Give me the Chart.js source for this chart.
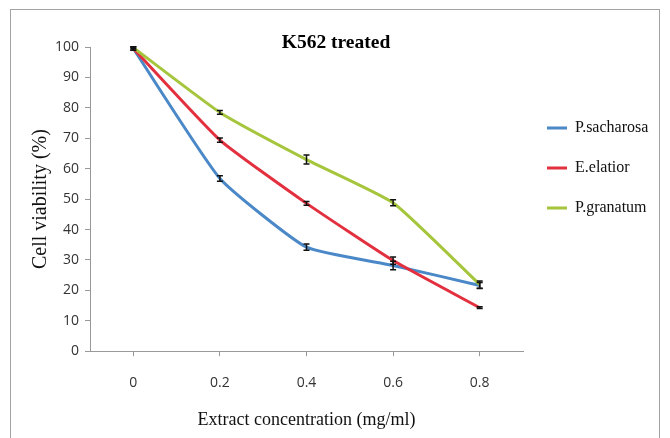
<!DOCTYPE html>
<html>
<head>
<meta charset="utf-8">
<script src="https://cdn.jsdelivr.net/npm/chart.js@4.4.1/dist/chart.umd.min.js"></script>
<style>
  html, body { margin: 0; padding: 0; background: #fff; }
  #wrap { position: relative; width: 670px; height: 438px; overflow: hidden; }
  #frame { position: absolute; left: 10px; top: 9px; width: 650px; height: 450px; border: 1.5px solid #a3a3a3; box-sizing: border-box; }
  canvas { position: absolute; left: 0; top: 0; }
</style>
</head>
<body>
<div id="wrap">
  <div id="frame"></div>
  <canvas id="chart" width="670" height="438"></canvas>
</div>
<script>
// Chart data
const concentrations = ['0', '0.2', '0.4', '0.6', '0.8'];
const sacharosa = [99.5, 56.8, 34.2, 28.2, 21.6];
const elatior = [99.5, 69.4, 48.6, 29.8, 14.3];
const granatum = [99.8, 78.5, 63.0, 48.8, 21.9];
const sacharosaErr = [0.6, 0.9, 1.0, 1.4, 1.0];
const elatiorErr = [0.5, 0.7, 0.6, 1.2, 0.3];
const granatumErr = [0.3, 0.6, 1.5, 1.0, 1.2];

const serif = '"Liberation Serif", "Times New Roman", serif';
const sans = '"Open Sans", "Noto Sans", sans-serif';

// small black error bars drawn on top of the lines
const errorBars = {
    id: 'errorBars',
    afterDatasetsDraw(chart) {
        const ctx = chart.ctx;
        const y = chart.scales.y;
        ctx.save();
        ctx.strokeStyle = '#111';
        ctx.lineWidth = 1.5;
        chart.data.datasets.forEach((ds, i) => {
            const meta = chart.getDatasetMeta(i);
            meta.data.forEach((pt, j) => {
                const v = ds.data[j], e = ds.errors[j];
                const top = y.getPixelForValue(v + e);
                const bot = y.getPixelForValue(v - e);
                ctx.beginPath();
                ctx.moveTo(pt.x, top); ctx.lineTo(pt.x, bot);
                ctx.moveTo(pt.x - 3, top); ctx.lineTo(pt.x + 3, top);
                ctx.moveTo(pt.x - 3, bot); ctx.lineTo(pt.x + 3, bot);
                ctx.stroke();
            });
        });
        ctx.restore();
    }
};

// keep legend width fixed so the plot area ends where the original does
const legendWidth = {
    id: 'legendWidth',
    afterInit(chart) {
        const lg = chart.legend;
        const fit = lg.fit;
        lg.fit = function () {
            fit.call(this);
            this.width = 137;
        };
    }
};

const ctx = document.getElementById('chart').getContext('2d');
new Chart(ctx, {
    type: 'line',
    data: {
        labels: concentrations,
        datasets: [
            { label: 'P.sacharosa', data: sacharosa, errors: sacharosaErr, borderColor: '#4a88c7', backgroundColor: '#4a88c7', borderWidth: 3, order: 2 },
            { label: 'E.elatior', data: elatior, errors: elatiorErr, borderColor: '#e3303f', backgroundColor: '#e3303f', borderWidth: 3, order: 1 },
            { label: 'P.granatum', data: granatum, errors: granatumErr, borderColor: '#a5c63c', backgroundColor: '#a5c63c', borderWidth: 3, order: 0 }
        ]
    },
    options: {
        responsive: false,
        animation: false,
        layout: { padding: { left: 12, right: 10, top: 0, bottom: 7 } },
        elements: {
            line: { borderWidth: 3, tension: 0.15 },
            point: { radius: 0, hoverRadius: 0 }
        },
        plugins: {
            tooltip: { enabled: false },
            title: {
                display: true,
                text: 'K562 treated',
                color: '#000',
                font: { family: serif, size: 19.5, weight: 'bold', lineHeight: 1.2 },
                padding: { top: 31.3, bottom: -7.7 }
            },
            legend: {
                position: 'right',
                align: 'start',
                fullSize: false,
                title: { display: true, text: '', font: { size: 10 }, padding: 18.5 },
                labels: {
                    usePointStyle: true,
                    pointStyle: 'line',
                    pointStyleWidth: 20,
                    padding: 24,
                    color: '#111',
                    font: { family: serif, size: 16 },
                    sort: (a, b) => a.datasetIndex - b.datasetIndex
                }
            }
        },
        scales: {
            x: {
                offset: true,
                grid: { offset: false, drawOnChartArea: false, tickLength: 5, color: '#999' },
                border: { color: '#999' },
                ticks: { color: '#333', padding: 18.2, font: { family: sans, size: 14 } },
                title: {
                    display: true,
                    text: 'Extract concentration (mg/ml)',
                    color: '#111',
                    font: { family: serif, size: 18 },
                    padding: { top: 0, bottom: 0 }
                }
            },
            y: {
                min: 0,
                max: 100,
                ticks: { stepSize: 10, color: '#333', padding: 6, font: { family: sans, size: 14 } },
                grid: { drawOnChartArea: false, tickLength: 5, color: '#999' },
                border: { color: '#999' },
                title: {
                    display: true,
                    text: 'Cell viability (%)',
                    color: '#111',
                    font: { family: serif, size: 20 },
                    padding: { top: 17, bottom: 0 }
                },
                afterFit(scale) { scale.width = 78; }
            }
        }
    },
    plugins: [errorBars, legendWidth]
});
</script>
</body>
</html>
